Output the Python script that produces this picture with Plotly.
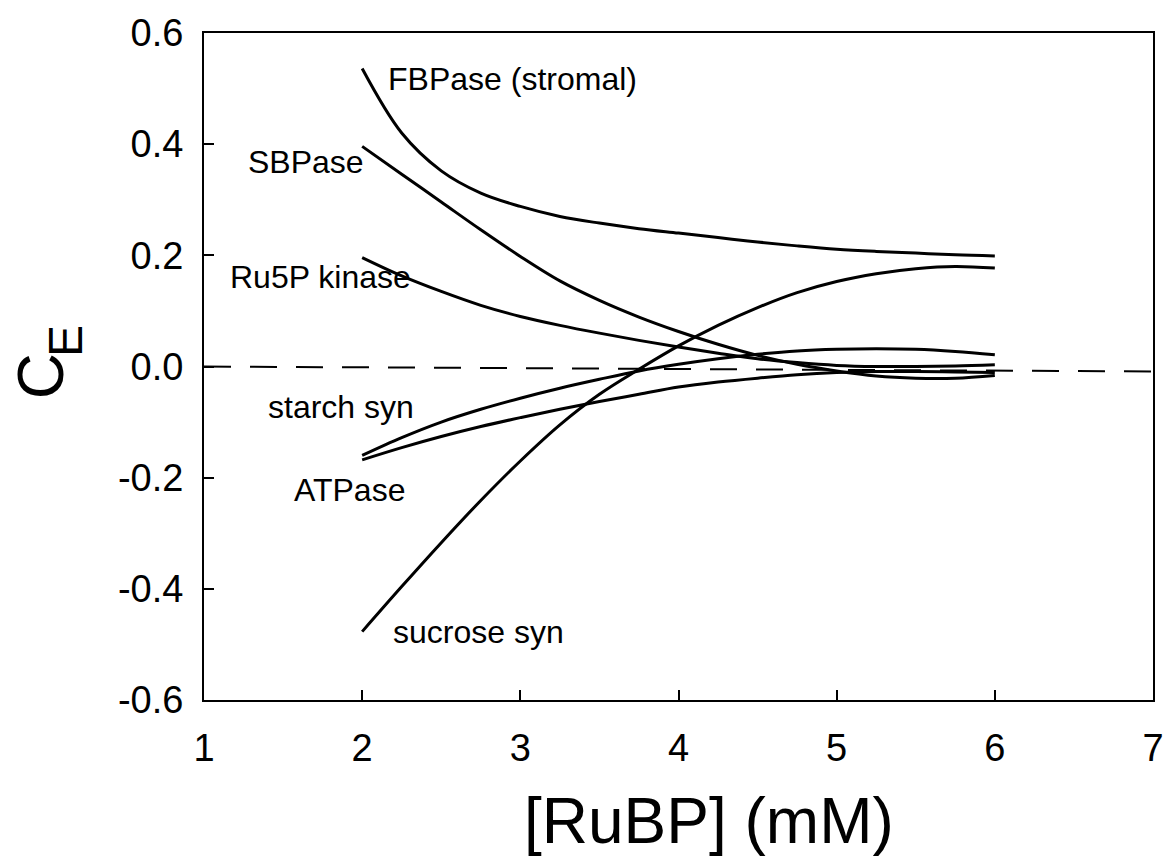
import plotly.graph_objects as go

# ---- data ----
x_grid = [2.0, 2.25, 2.5, 2.75, 3.0, 3.25, 3.5, 3.75, 4.0, 4.25, 4.5, 4.75, 5.0, 5.25, 5.5, 5.75, 6.0]

fbpase = [0.536, 0.420, 0.352, 0.312, 0.288, 0.270, 0.258, 0.248, 0.240, 0.232, 0.224, 0.217, 0.211, 0.207, 0.204, 0.201, 0.199]
sbpase = [0.396, 0.346, 0.296, 0.246, 0.198, 0.154, 0.119, 0.089, 0.063, 0.040, 0.020, 0.004, -0.008, -0.017, -0.021, -0.021, -0.016]
ru5p_kinase = [0.196, 0.163, 0.135, 0.110, 0.090, 0.074, 0.060, 0.047, 0.035, 0.024, 0.014, 0.007, 0.002, 0.000, 0.000, 0.001, 0.003]
starch_syn = [-0.160, -0.128, -0.100, -0.077, -0.057, -0.039, -0.023, -0.008, 0.004, 0.014, 0.022, 0.028, 0.031, 0.032, 0.031, 0.027, 0.021]
atpase = [-0.168, -0.146, -0.126, -0.108, -0.092, -0.077, -0.063, -0.050, -0.037, -0.028, -0.021, -0.015, -0.011, -0.009, -0.009, -0.010, -0.011]
sucrose_syn = [-0.477, -0.396, -0.317, -0.241, -0.170, -0.105, -0.050, -0.005, 0.037, 0.074, 0.106, 0.133, 0.153, 0.167, 0.176, 0.180, 0.177]

ref_x = [1.0, 7.0]
ref_y = [0.0, -0.009]

series_names = ["FBPase (stromal)", "SBPase", "Ru5P kinase", "starch syn", "ATPase", "sucrose syn"]
label_x = [2.15, 1.263, 1.15, 1.394, 1.556, 2.18]
label_y = [0.518, 0.368, 0.161, -0.073, -0.222, -0.478]

x_tickvals = [1, 2, 3, 4, 5, 6, 7]
x_ticktext = ["1", "2", "3", "4", "5", "6", "7"]
y_tickvals = [-0.6, -0.4, -0.2, 0.0, 0.2, 0.4, 0.6]
y_ticktext = ["-0.6", "-0.4", "-0.2", "0.0", "0.2", "0.4", "0.6"]

FONT = "Arial, Liberation Sans, Helvetica, sans-serif"

fig = go.Figure()

fig.add_trace(go.Scatter(x=ref_x, y=ref_y, mode="lines",
                         line=dict(color="black", width=2, dash="27px,19px"),
                         showlegend=False, hoverinfo="skip"))

for name, ys in zip(series_names, [fbpase, sbpase, ru5p_kinase, starch_syn, atpase, sucrose_syn]):
    fig.add_trace(go.Scatter(x=x_grid, y=ys, mode="lines", name=name,
                             line=dict(color="black", width=3, shape="spline", smoothing=1.0),
                             showlegend=False))

annotations = []
for name, lx, ly in zip(series_names, label_x, label_y):
    annotations.append(dict(x=lx, y=ly, xref="x", yref="y", text=name, showarrow=False,
                            xanchor="left", yanchor="middle",
                            font=dict(family=FONT, size=32, color="black")))

# axis titles
annotations.append(dict(x=0.532, y=-0.181, xref="paper", yref="paper", text="[RuBP] (mM)",
                        showarrow=False, xanchor="center", yanchor="middle",
                        font=dict(family=FONT, size=64, color="black")))
annotations.append(dict(x=-0.172, y=0.485, xref="paper", yref="paper", text="C",
                        showarrow=False, xanchor="center", yanchor="middle", textangle=-90,
                        font=dict(family=FONT, size=64, color="black")))
annotations.append(dict(x=-0.146, y=0.539, xref="paper", yref="paper", text="E",
                        showarrow=False, xanchor="center", yanchor="middle", textangle=-90,
                        font=dict(family=FONT, size=48, color="black")))

fig.update_layout(
    width=1176, height=861,
    margin=dict(l=204, r=12, t=29, b=161),
    paper_bgcolor="white", plot_bgcolor="white",
    font=dict(family=FONT, color="black"),
    annotations=annotations,
    xaxis=dict(range=[1, 7], tickvals=x_tickvals, ticktext=x_ticktext,
               ticks="inside", ticklen=10, tickwidth=2, tickcolor="black",
               showline=True, linecolor="black", linewidth=2, mirror=True,
               showgrid=False, zeroline=False, ticklabelstandoff=13,
               tickfont=dict(family=FONT, size=38, color="black")),
    yaxis=dict(range=[-0.6, 0.6], tickvals=y_tickvals, ticktext=y_ticktext,
               ticks="inside", ticklen=10, tickwidth=2, tickcolor="black",
               showline=True, linecolor="black", linewidth=2, mirror=True,
               showgrid=False, zeroline=False, ticklabelstandoff=11,
               tickfont=dict(family=FONT, size=38, color="black")),
)

fig.write_html("out.html")
